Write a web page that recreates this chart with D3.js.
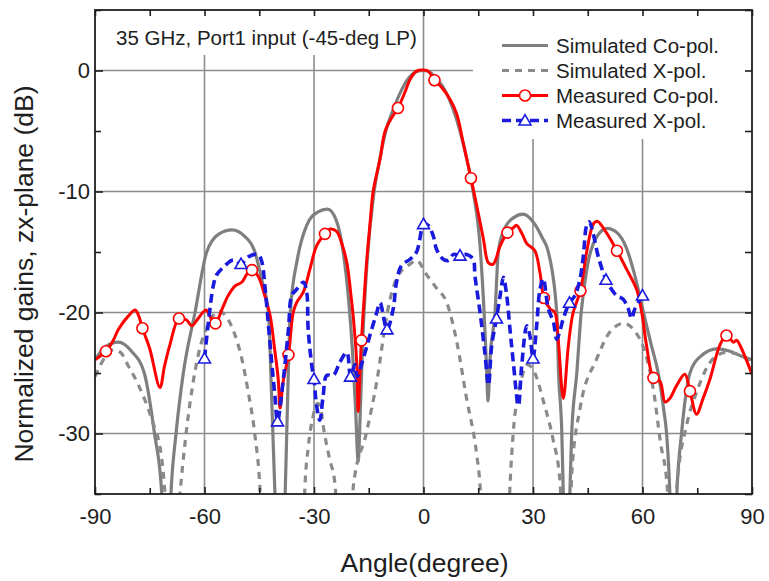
<!DOCTYPE html>
<html>
<head>
<meta charset="utf-8">
<script src="https://cdn.jsdelivr.net/npm/d3@7"></script>
<style>
  html, body { margin: 0; padding: 0; background: #fff; }
  svg { display: block; }
  text { font-family: "Liberation Sans", Arial, sans-serif; fill: #1e1e1e; }
</style>
</head>
<body>
<svg id="chart" width="769" height="581"></svg>
<script>
// ---- data: [angle (deg), normalized gain (dB)] ----
const simulatedCoPol = [
  [-90,-23.9],[-87,-22.8],[-83.6,-22.45],[-80,-23.2],[-76.5,-25],[-73.7,-30],[-71.7,-35],[-70.4,-45],
  [-69.2,-35],[-67.8,-30],[-65.8,-25],[-62.6,-20],[-59.4,-15],[-56,-13.5],[-52.5,-13.17],[-49,-13.7],
  [-46.2,-15],[-44.3,-17.3],[-42.5,-20],[-41.6,-27],[-40.7,-35],[-39.3,-45],[-37.9,-35],[-37.3,-28],
  [-36.5,-20],[-34.5,-15.5],[-32,-12.8],[-29,-11.7],[-26.3,-11.46],[-24,-12.3],[-22,-15],[-20.5,-19],
  [-19.5,-23],[-18.6,-28],[-17.9,-32.3],[-17.3,-28],[-16.6,-22],[-15.5,-16],[-13.75,-10.5],[-12,-7.4],
  [-10.5,-5.2],[-8,-3],[-6,-1.6],[-4,-0.6],[-2,-0.1],[0,0],[2,-0.2],[4,-0.8],[6,-1.7],[8,-3.1],
  [10,-5],[12,-7.5],[13.6,-10],[15.5,-14.5],[16.6,-20],[17.2,-24],[17.7,-27.3],[18.2,-24],[19.6,-20],
  [20.5,-15],[22,-13.2],[24.5,-12.2],[27.3,-11.87],[30,-12.5],[32.5,-13.8],[34.2,-15],[36.5,-20],
  [37,-25],[37.9,-30],[38.3,-35],[39.2,-45],[40.1,-35],[40.6,-30],[42,-25],[43.2,-20],[45,-16],
  [47,-14],[50.3,-13.05],[53,-13.4],[55.5,-14.6],[57.5,-16.5],[59,-18.3],[60.5,-20.3],[62.5,-22.8],
  [64.3,-25],[65.8,-28],[66.6,-30],[67.5,-35],[68.4,-45],[69.4,-35],[70.7,-30],[73,-25],[76,-23.6],
  [80.3,-23.0],[84,-23.2],[87,-23.6],[90,-23.9]
];

const simulatedXPol = [
  [-90,-25.3],[-87,-23.6],[-85,-23.1],[-83,-23.3],[-80.9,-24.4],[-78.1,-26],[-74.5,-28.8],[-71.7,-32.1],
  [-70.8,-35],[-68.8,-45],[-66.7,-35],[-65.3,-30.7],[-63.5,-26.5],[-61.7,-23.5],[-59,-21],[-56,-19.9],
  [-53.9,-20.4],[-51.6,-21.9],[-49.8,-23.8],[-48,-26.6],[-46.2,-30.1],[-44.8,-34.6],[-43.5,-45],
  [-33.5,-45],[-32.5,-34.5],[-31.6,-31.2],[-30.2,-28.5],[-29,-27.5],[-28,-28.2],[-27.5,-29.3],
  [-25.8,-32],[-24.2,-34.3],[-23,-45],
  [-20.5,-45],[-19.2,-34.3],[-15.6,-29.9],[-12.8,-25.7],[-9.8,-19.8],[-7.4,-17.2],[-3.7,-16.0],
  [-1.9,-15.7],[0.9,-16.9],[3.6,-18.0],[6.4,-19.2],[9.1,-22.4],[11.8,-27.1],[14.6,-31.8],[15.5,-34.3],[17,-45],
  [22.5,-45],[23.7,-34.3],[24.6,-29.9],[26.5,-26],[28.5,-24.3],[30.5,-25],[33,-27.5],[35.5,-30.5],
  [37.4,-34],[38.8,-45],
  [39.8,-45],[40.6,-33.4],[42.9,-27.9],[47.5,-23.8],[51.1,-21.6],[54.8,-20.9],[58.5,-21.8],[61.2,-23.8],
  [63.1,-26.6],[64.9,-30.7],[66.8,-34.5],[68,-45],
  [68.8,-45],[69.4,-34.5],[72.1,-29.3],[74.8,-26.6],[79.4,-23.8],[83,-23.3],[86.5,-23.5],[90,-24.1]
];

const measuredCoPol = [
  [-90,-23.9],[-87,-23.2],[-85,-22.3],[-83.6,-21.4],[-80.9,-20.3],[-79,-19.8],[-78,-20.3],[-77,-21.3],
  [-75,-23],[-72.2,-26.2],[-71,-24.5],[-69.5,-22.7],[-67,-20.5],[-65,-20.6],[-63.5,-21.1],[-62,-20.6],
  [-60.5,-20.0],[-59.5,-19.8],[-58.5,-20.3],[-57,-20.9],[-55.3,-19.8],[-53.5,-18.6],[-51.6,-17.8],
  [-49.8,-17.5],[-48.3,-16.8],[-47,-16.5],[-45.3,-17.0],[-43.5,-18.6],[-42,-20.3],[-40.8,-23],
  [-39.8,-25.5],[-39.3,-27.9],[-38.4,-25.6],[-37,-23.5],[-35.7,-20.0],[-34.8,-19.2],[-32.9,-18.3],
  [-31.1,-16.4],[-29.3,-14.5],[-27,-13.5],[-25.6,-13.1],[-23.8,-13.3],[-22.5,-14.2],[-21,-15.9],
  [-19.9,-18.5],[-19.2,-20.5],[-18.3,-24.1],[-17.9,-28.2],[-17.4,-25],[-17,-22.3],[-16.3,-19],
  [-15.6,-15.9],[-14.6,-12.5],[-13.8,-10.0],[-11.9,-7.3],[-10.5,-5.0],[-8.5,-3.8],[-7,-3.1],
  [-5.1,-1.8],[-3.7,-0.74],[-1.9,-0.05],[0,0.05],[1.3,-0.05],[3,-0.8],[5,-1.4],[7.3,-2.4],[9.1,-3.6],
  [10.9,-6.0],[13,-8.9],[14.6,-11.2],[16.4,-13.9],[17.8,-15.9],[19.1,-16.0],[21,-14.5],[23,-13.4],
  [24.6,-13.0],[25.5,-12.8],[27,-13.5],[28.3,-14.3],[30.5,-14.9],[31.9,-16.7],[33,-18.8],[34.7,-19.7],
  [36,-20.0],[36.9,-22.2],[38.3,-27.1],[39.7,-22.7],[41,-20.0],[43,-18.2],[44.7,-15.0],[46.5,-12.7],
  [47.6,-12.45],[50.1,-13.4],[53,-14.9],[55.6,-16.4],[58.4,-18.1],[59.8,-20.0],[61.1,-22.7],[63,-25.4],
  [64.8,-25.7],[66.2,-27.4],[67.5,-27.1],[69.4,-26.0],[71.6,-25.1],[73,-26.5],[74.8,-28.4],[76.6,-27.1],
  [78.5,-25.5],[81.2,-22.7],[83,-21.9],[84.9,-22.45],[85.8,-22.3],[86.7,-22.7],[90,-25.1]
];

const measuredXPol = [
  [-60,-23.8],[-59,-21.0],[-57.6,-17.8],[-56.7,-16.9],[-54.6,-16.2],[-52.6,-15.7],[-51.5,-15.7],
  [-50,-16.0],[-48,-15.4],[-45.3,-15.2],[-44.3,-15.8],[-43.4,-18.0],[-42.5,-21.0],[-41.6,-24.1],
  [-40.7,-26.9],[-40,-29.0],[-38.4,-25.5],[-37,-21.4],[-36.1,-18.6],[-34.8,-18.1],[-32.9,-17.5],
  [-32,-18.3],[-31.6,-21.4],[-30.6,-24.4],[-30,-25.5],[-29.3,-27.7],[-28.4,-28.9],[-27.5,-26.9],
  [-26.5,-25.2],[-24.7,-25.2],[-22.9,-24.1],[-21,-23.3],[-20,-25.3],[-18.8,-24.3],[-18.2,-25.3],
  [-16.5,-23.8],[-14.7,-21.9],[-12.8,-20.0],[-11.9,-19.2],[-10,-21.4],[-8.3,-19.7],[-7.4,-17.5],
  [-6,-16.1],[-3.7,-15.6],[-1.9,-15.0],[-0.5,-13.1],[0,-12.7],[1.3,-12.8],[2.7,-13.7],[3.6,-14.8],
  [5.4,-15.6],[6.8,-15.7],[8.2,-15.2],[10,-15.3],[11.8,-15.2],[13.6,-15.6],[14.1,-17.0],[15.5,-20.0],
  [16.8,-23.3],[17.8,-26.0],[18.7,-22.7],[20,-20.5],[21,-18.6],[21.9,-17.1],[22.8,-18.6],[23.7,-21.4],
  [24.6,-24.1],[26,-27.7],[26.9,-24.4],[28.3,-21.1],[29.2,-22],[30,-23.8],[31,-21.1],[31.9,-18.1],
  [32.8,-17.2],[34.2,-19.7],[35.6,-20.8],[36.5,-22.2],[37.4,-21.5],[38.3,-20.5],[40,-19.2],[41.5,-18.6],
  [42.9,-17.2],[43.8,-15.3],[44.7,-12.8],[45.4,-12.5],[46.5,-13.5],[47.9,-15.4],[50,-17.3],[51.1,-17.9],
  [52.9,-18.6],[54.7,-18.9],[56.1,-19.7],[57,-20.5],[57.9,-19.7],[60,-18.6]
];

// angles carrying a symbol on the measured curves
const coPolMarkerAngles = [-87,-77,-67,-57,-47,-37,-27,-17,-7,3,13,23,33,43,53,63,73,83];
const xPolMarkerAngles = [-60,-50,-40,-30,-20,-10,0,10,20,30,40,50,60];

// axes
const xTicks = [-90,-60,-30,0,30,60,90];
const xMinorTicks = [-75,-45,-15,15,45,75];
const yTicks = [-30,-20,-10,0];
const yMinorTicks = [-35,-25,-15,-5,5];
const xGrid = [-60,-30,0,30,60];
const yGrid = [-30,-20,-10,0];

const xTitle = "Angle(degree)";
const yTitle = "Normalized gains, zx-plane (dB)";
const note = "35 GHz, Port1 input (-45-deg LP)";
const legendLabels = ["Simulated Co-pol.","Simulated X-pol.","Measured Co-pol.","Measured X-pol."];

// ---- drawing ----
const svg = d3.select("#chart");
const L = 95, R = 752, T = 10, B = 494;

const x = d3.scaleLinear().domain([-90, 90]).range([L, R]);
const y = d3.scaleLinear().domain([-35, 5]).range([B, T]);

const gridColor = "#8c8c8c";
const styles = {
  simCo:  { stroke: "#7f7f7f", width: 3.2, dash: null },
  simX:   { stroke: "#8a8a8a", width: 3.2, dash: "7,6" },
  measCo: { stroke: "#ff0000", width: 3.0, dash: null },
  measX:  { stroke: "#1a1adf", width: 3.6, dash: "9,5" }
};

// grid
const grid = svg.append("g");
grid.selectAll("line.v").data(xGrid).join("line")
  .attr("x1", d => x(d)).attr("x2", d => x(d)).attr("y1", T).attr("y2", B)
  .attr("stroke", gridColor).attr("stroke-width", 1.6);
grid.selectAll("line.h").data(yGrid).join("line")
  .attr("x1", L).attr("x2", R).attr("y1", d => y(d)).attr("y2", d => y(d))
  .attr("stroke", gridColor).attr("stroke-width", 1.6);

// white panels behind the note and the legend
svg.append("rect").attr("x", L + 1).attr("y", T + 1).attr("width", 318).attr("height", 44).attr("fill", "#fff");
svg.append("rect").attr("x", 473).attr("y", T + 1).attr("width", R - 473 - 1).attr("height", 128).attr("fill", "#fff");

// curves
svg.append("clipPath").attr("id", "plot-clip")
  .append("rect").attr("x", L).attr("y", T).attr("width", R - L).attr("height", B - T);
const plot = svg.append("g").attr("clip-path", "url(#plot-clip)");

const smoothLine = d3.line().x(d => x(d[0])).y(d => y(d[1])).curve(d3.curveMonotoneX);
const measLine = d3.line().x(d => x(d[0])).y(d => y(d[1])).curve(d3.curveCatmullRom.alpha(0.5));

function drawPath(data, gen, st) {
  plot.append("path").datum(data).attr("d", gen)
    .attr("fill", "none").attr("stroke", st.stroke).attr("stroke-width", st.width)
    .attr("stroke-linejoin", "round")
    .attr("stroke-dasharray", st.dash);
}
drawPath(simulatedCoPol, smoothLine, styles.simCo);
drawPath(simulatedXPol, smoothLine, styles.simX);
drawPath(measuredCoPol, measLine, styles.measCo);

plot.selectAll("circle.co")
  .data(measuredCoPol.filter(d => coPolMarkerAngles.includes(d[0])))
  .join("circle")
  .attr("cx", d => x(d[0])).attr("cy", d => y(d[1])).attr("r", 5.5)
  .attr("fill", "#fff").attr("stroke", styles.measCo.stroke).attr("stroke-width", 1.6);

drawPath(measuredXPol, measLine, styles.measX);

const tri = d3.symbol().type(d3.symbolTriangle).size(62);
plot.selectAll("path.xp")
  .data(measuredXPol.filter(d => xPolMarkerAngles.includes(d[0])))
  .join("path")
  .attr("d", tri)
  .attr("transform", d => `translate(${x(d[0])},${y(d[1]) + 1})`)
  .attr("fill", "#fff").attr("stroke", styles.measX.stroke).attr("stroke-width", 1.6);

// axes with inward ticks on all four sides
function styleAxis(g) {
  g.select(".domain").remove();
  g.selectAll(".tick line").attr("stroke", "#1e1e1e").attr("stroke-width", 1.6);
  g.selectAll(".tick text").style("font-size", "22px").attr("fill", "#1e1e1e")
    .style("font-family", "'Liberation Sans', Arial, sans-serif");
}
const fmt = d => String(d).replace("\u2212", "-");

svg.append("g").attr("transform", `translate(0,${B})`)
  .call(d3.axisBottom(x).tickValues(xTicks).tickSizeInner(-7).tickSizeOuter(0).tickPadding(14).tickFormat(fmt))
  .call(styleAxis);
svg.append("g").attr("transform", `translate(0,${B})`)
  .call(d3.axisBottom(x).tickValues(xMinorTicks).tickSizeInner(-6).tickSizeOuter(0).tickFormat(""))
  .call(styleAxis);
svg.append("g").attr("transform", `translate(0,${T})`)
  .call(d3.axisTop(x).tickValues(xTicks.concat(xMinorTicks)).tickSizeInner(-6).tickSizeOuter(0).tickFormat(""))
  .call(styleAxis);
svg.append("g").attr("transform", `translate(${L},0)`)
  .call(d3.axisLeft(y).tickValues(yTicks).tickSizeInner(-8).tickSizeOuter(0).tickPadding(5).tickFormat(fmt))
  .call(styleAxis);
svg.append("g").attr("transform", `translate(${L},0)`)
  .call(d3.axisLeft(y).tickValues(yMinorTicks).tickSizeInner(-6).tickSizeOuter(0).tickFormat(""))
  .call(styleAxis);
svg.append("g").attr("transform", `translate(${R},0)`)
  .call(d3.axisRight(y).tickValues(yTicks.concat(yMinorTicks)).tickSizeInner(-7).tickSizeOuter(0).tickFormat(""))
  .call(styleAxis);

// frame
svg.append("rect").attr("x", L).attr("y", T).attr("width", R - L).attr("height", B - T)
  .attr("fill", "none").attr("stroke", "#1e1e1e").attr("stroke-width", 1.8);

// titles
svg.append("text").attr("x", (L + R) / 2 + 1).attr("y", 572).attr("text-anchor", "middle")
  .style("font-size", "26.5px").text(xTitle);
svg.append("text").attr("transform", "translate(33,274) rotate(-90)").attr("text-anchor", "middle")
  .style("font-size", "26.5px").text(yTitle);

// note
svg.append("text").attr("x", 116).attr("y", 45).style("font-size", "20.5px").text(note);

// legend
const legendKeys = ["simCo", "simX", "measCo", "measX"];
const lg = svg.append("g");
legendKeys.forEach((k, i) => {
  const cy = 45.5 + i * 25;
  const st = styles[k];
  lg.append("line").attr("x1", 502).attr("x2", 548).attr("y1", cy).attr("y2", cy)
    .attr("stroke", st.stroke).attr("stroke-width", st.width).attr("stroke-dasharray", st.dash);
  if (k === "measCo") {
    lg.append("circle").attr("cx", 525).attr("cy", cy).attr("r", 5.5)
      .attr("fill", "#fff").attr("stroke", st.stroke).attr("stroke-width", 1.6);
  }
  if (k === "measX") {
    lg.append("path").attr("d", tri).attr("transform", `translate(525,${cy + 1})`)
      .attr("fill", "#fff").attr("stroke", st.stroke).attr("stroke-width", 1.6);
  }
  lg.append("text").attr("x", 556).attr("y", cy + 7).style("font-size", "20.5px").text(legendLabels[i]);
});
</script>
</body>
</html>
